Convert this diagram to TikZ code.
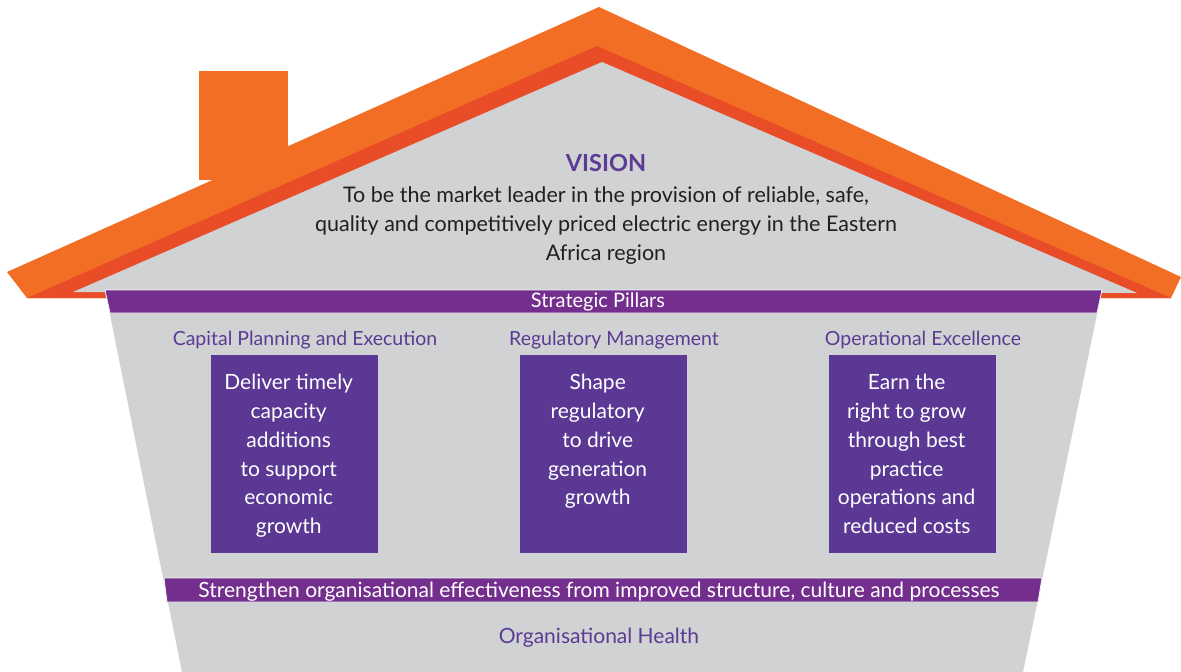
\documentclass[tikz,border=0pt]{standalone}
\usepackage{fontspec}
\setmainfont{Lato}
\usetikzlibrary{positioning}
\definecolor{roofOrange}{HTML}{F26E24}
\definecolor{roofRed}{HTML}{E84D27}
\definecolor{wallGray}{HTML}{D1D2D4}
\definecolor{bandPurple}{HTML}{742F8E}
\definecolor{boxPurple}{HTML}{5B3894}
\definecolor{headPurple}{HTML}{5C3B94}
\definecolor{bodyText}{HTML}{231F20}
\begin{document}
\begin{tikzpicture}[x=1pt,y=-1pt,
  band/.style={fill=bandPurple,draw=white!75!wallGray,line width=0.8pt},
  pillarbox/.style={fill=boxPurple,minimum width=167pt,minimum height=198pt,anchor=north west,inner sep=0pt},
  pillartext/.style={text=white,align=center,anchor=north,inner sep=0pt,xshift=-6pt,font=\fontsize{21}{28.8}\selectfont},
  pillarhead/.style={text=headPurple,anchor=base,inner sep=0pt,font=\fontsize{19.5}{22}\selectfont}]
\useasboundingbox (0,0) rectangle (1181,672);
% roof and chimney
\fill[roofOrange] (199,71) rectangle (288,180);
\fill[roofOrange] (7,272)--(599,7)--(1181,277)--(1171,298)--(27,298)--cycle;
\fill[roofRed] (27,298)--(597,46)--(1171,298)--cycle;
\fill[wallGray] (73,292)--(602,62)--(1137,293)--cycle;
% house body
\fill[wallGray] (105,290)--(1102,290)--(1023,672)--(182,672)--cycle;
\draw[band] (105,290)--(1102,290)--(1097,313)--(110,313)--cycle;
\draw[band] (164,578)--(1042,578)--(1038,602)--(167,602)--cycle;
% vision
\node[text=headPurple,anchor=base,inner sep=0pt,font=\fontsize{23.5}{26}\bfseries] (vision) at (606,171) {VISION};
\node[text=bodyText,align=center,anchor=north,inner sep=0pt,font=\fontsize{21.5}{29}\selectfont] (visiontext) at (606,186)
  {To be the market leader in the provision of reliable, safe,\\quality and competitively priced electric energy in the Eastern\\Africa region};
\node[text=white,anchor=base,inner sep=0pt,font=\fontsize{20}{22}\selectfont] (pillars) at (598,307) {Strategic Pillars};
% pillars
\node[pillarhead] (capital) at (305,345) {Capital Planning and Execution};
\node[pillarhead] (regulatory) at (614,345) {Regulatory Management};
\node[pillarhead] (operational) at (923,345) {Operational Excellence};
\node[pillarbox] (capbox) at (211,355) {};
\node[pillarbox] (regbox) at (520,355) {};
\node[pillarbox] (opbox) at (829,355) {};
\node[pillartext,below=19pt of capbox.north] (captext) {Deliver timely\\capacity\\additions\\to support\\economic\\growth};
\node[pillartext,below=19pt of regbox.north] (regtext) {Shape\\regulatory\\to drive\\generation\\growth};
\node[pillartext,below=19pt of opbox.north] (optext) {Earn the\\right to grow\\through best\\practice\\operations and\\reduced costs};
% organisational health
\node[text=white,anchor=base,inner sep=0pt,font=\fontsize{21}{24}\selectfont] (strengthen) at (599,597)
  {Strengthen organisational effectiveness from improved structure, culture and processes};
\node[text=headPurple,anchor=base,inner sep=0pt,font=\fontsize{21}{24}\selectfont] (health) at (599,643) {Organisational Health};
\end{tikzpicture}
\end{document}
